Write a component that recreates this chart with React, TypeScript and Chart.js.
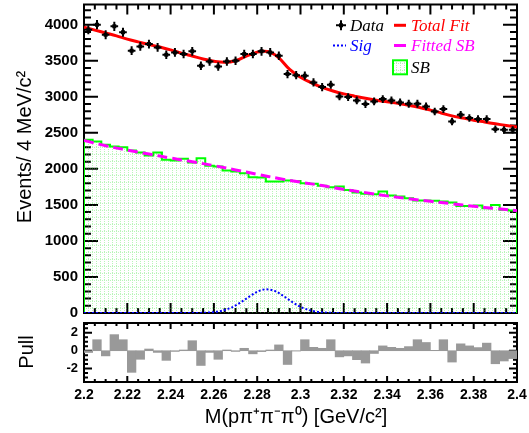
import React, { useEffect, useRef } from 'react';
import { Chart, registerables } from 'chart.js';

Chart.register(...registerables);

// ---------- data ----------
const BIN_LO = 2.2;
const BIN_HI = 2.4;
const BIN_W = 0.004;

const dataCounts = [
  3930, 4000, 3861, 3977, 3894, 3639, 3699, 3731, 3685, 3583,
  3615, 3593, 3630, 3431, 3490, 3421, 3490, 3500, 3593, 3593,
  3630, 3615, 3569, 3315, 3299, 3292, 3199, 3134, 3167, 3005,
  2995, 2949, 2898, 2935, 2968, 2949, 2921, 2903, 2903, 2866,
  2796, 2829, 2657, 2750, 2704, 2690, 2690, 2551, 2542, 2542,
];

const sbCounts = [
  2403, 2380, 2333, 2310, 2301, 2255, 2227, 2185, 2227, 2125,
  2116, 2139, 2088, 2148, 2042, 2032, 1977, 1963, 1940, 1884,
  1880, 1824, 1824, 1838, 1830, 1801, 1792, 1764, 1745, 1755,
  1708, 1671, 1653, 1648, 1685, 1630, 1616, 1593, 1560, 1560,
  1556, 1546, 1532, 1486, 1486, 1491, 1454, 1500, 1431, 1421,
];

const pullValues = [
  -0.2, 1.23, -0.58, 1.8, 1.23, -2.42, -0.96, 0.19, -0.19, -1.08,
  -0.08, 0.08, 1.12, -1.65, -0.19, -0.96, 0.08, -0.08, 0.27, -0.35,
  -0.1, 0.08, 0.65, -1.54, -0.04, 1.23, 0.38, 0.27, 1.23, -0.69,
  -0.58, -1.0, -1.38, -0.31, 0.54, 0.38, 0.27, 0.46, 1.23, 0.92,
  0.04, 1.23, -1.27, 0.77, 0.54, 0.35, 0.85, -1.46, -1.15, -0.88,
];

const fitX = [
  2.2, 2.205, 2.21, 2.215, 2.22, 2.225, 2.23, 2.235, 2.24, 2.245,
  2.25, 2.255, 2.26, 2.265, 2.27, 2.275, 2.28, 2.283, 2.286, 2.29,
  2.295, 2.3, 2.305, 2.31, 2.315, 2.32, 2.325, 2.33, 2.335, 2.34,
  2.345, 2.35, 2.355, 2.36, 2.365, 2.37, 2.375, 2.38, 2.385, 2.39,
  2.395, 2.4,
];
const fitY = [
  3965, 3925, 3885, 3845, 3800, 3762, 3725, 3690, 3650, 3605,
  3565, 3525, 3492, 3478, 3500, 3565, 3620, 3632, 3618, 3540,
  3380, 3270, 3195, 3130, 3080, 3040, 3008, 2978, 2952, 2930,
  2908, 2882, 2852, 2815, 2775, 2735, 2705, 2675, 2650, 2625,
  2602, 2580,
];

const sigX = [
  2.2, 2.24, 2.252, 2.256, 2.26, 2.264, 2.268, 2.272, 2.276, 2.28,
  2.284, 2.288, 2.292, 2.296, 2.3, 2.304, 2.308, 2.312, 2.316, 2.33, 2.4,
];
const sigY = [
  0, 0, 1, 4, 12, 33, 74, 140, 220, 295,
  329, 307, 239, 156, 86, 40, 15, 5, 1, 0, 0,
];

const sbFitX = [
  2.2, 2.21, 2.22, 2.23, 2.24, 2.25, 2.26, 2.27, 2.28, 2.29,
  2.3, 2.31, 2.32, 2.33, 2.34, 2.35, 2.36, 2.37, 2.38, 2.39, 2.4,
];
const sbFitY = [
  2395, 2320, 2260, 2205, 2150, 2098, 2045, 1985, 1925, 1866,
  1815, 1768, 1715, 1670, 1625, 1585, 1550, 1515, 1480, 1450, 1420,
];

const xTickValues = [2.2, 2.22, 2.24, 2.26, 2.28, 2.3, 2.32, 2.34, 2.36, 2.38, 2.4];
const xTickLabels = ['2.2', '2.22', '2.24', '2.26', '2.28', '2.3', '2.32', '2.34', '2.36', '2.38', '2.4'];
const yTickValues = [0, 500, 1000, 1500, 2000, 2500, 3000, 3500, 4000];
const yTickLabels = ['0', '500', '1000', '1500', '2000', '2500', '3000', '3500', '4000'];
const pullTickValues = [-2, 0, 2];
const pullTickLabels = ['-2', '0', '2'];

const xMajorStep = 0.02;
const xMinorStep = 0.005;
const yMajorStep = 500;
const yMinorStep = 100;
const pullMajorStep = 2;
const pullMinorStep = 0.5;
const Y_MAX = 4280;
const PULL_MIN = -3.5;
const PULL_MAX = 3.1;

const legendEntries = [
  { label: 'Data', color: '#000000', kind: 'cross', col: 0, row: 0 },
  { label: 'Total Fit', color: '#ff0000', kind: 'line', col: 1, row: 0 },
  { label: 'Sig', color: '#0000ff', kind: 'dots', col: 0, row: 1 },
  { label: 'Fitted SB', color: '#ff00ff', kind: 'line', col: 1, row: 1 },
  { label: 'SB', color: '#000000', kind: 'box', col: 1, row: 2 },
];

// ---------- helpers ----------
const SANS = '"Liberation Sans", Arial, Helvetica, sans-serif';
const SERIF = '"Liberation Serif", "Times New Roman", serif';

function range(min: number, max: number, step: number): number[] {
  const out: number[] = [];
  const n = Math.round((max - min) / step);
  for (let i = 0; i <= n; i++) out.push(+(min + i * step).toFixed(6));
  return out;
}
function minorOnly(min: number, max: number, step: number, major: number): number[] {
  return range(min, max, step).filter((v) => {
    const r = v / major;
    return Math.abs(r - Math.round(r)) > 1e-6;
  });
}
function labelFor(values: number[], labels: string[]) {
  return (v: any) => {
    const i = values.findIndex((t) => Math.abs(t - Number(v)) < 1e-9);
    return i >= 0 ? labels[i] : '';
  };
}
function fixWidth(w: number) {
  return (s: any) => {
    s.width = w;
    s.paddingTop = 0;
    s.paddingBottom = 0;
  };
}
function fixHeight(h: number) {
  return (s: any) => {
    s.height = h;
    s.paddingLeft = 0;
    s.paddingRight = 0;
  };
}

type TickSpec = { major: number[]; minor: number[]; majorLen: number; minorLen: number };

function framePlugin(id: string, xt: TickSpec, yt: TickSpec) {
  return {
    id,
    beforeDatasetsDraw(chart: any) {
      const { ctx, chartArea: a, scales } = chart;
      const xs = scales.x;
      const ys = scales.y;
      ctx.save();
      ctx.strokeStyle = '#000';
      ctx.lineWidth = 2;
      ctx.beginPath();
      const drawX = (vals: number[], len: number) => {
        vals.forEach((v) => {
          const px = xs.getPixelForValue(v);
          ctx.moveTo(px, a.bottom);
          ctx.lineTo(px, a.bottom - len);
          ctx.moveTo(px, a.top);
          ctx.lineTo(px, a.top + len);
        });
      };
      const drawY = (vals: number[], len: number) => {
        vals.forEach((v) => {
          const py = ys.getPixelForValue(v);
          ctx.moveTo(a.left, py);
          ctx.lineTo(a.left + len, py);
          ctx.moveTo(a.right, py);
          ctx.lineTo(a.right - len, py);
        });
      };
      drawX(xt.major, xt.majorLen);
      drawX(xt.minor, xt.minorLen);
      drawY(yt.major, yt.majorLen);
      drawY(yt.minor, yt.minorLen);
      ctx.stroke();
      ctx.strokeRect(a.left, a.top, a.right - a.left, a.bottom - a.top);
      ctx.restore();
    },
  };
}

function makePattern(): CanvasPattern | string {
  const c = document.createElement('canvas');
  c.width = 4;
  c.height = 7;
  const g = c.getContext('2d');
  if (!g) return 'rgba(0,255,0,0.1)';
  g.fillStyle = 'rgba(70, 230, 70, 0.38)';
  for (let y = 0; y < 7; y += 2) g.fillRect(0, y, 1, 1);
  g.fillRect(2, 0, 1, 1);
  return g.createPattern(c, 'repeat') || 'rgba(0,255,0,0.1)';
}

export default function App() {
  const mainRef = useRef<HTMLCanvasElement>(null);
  const pullRef = useRef<HTMLCanvasElement>(null);

  useEffect(() => {
    document.body.style.margin = '0';
    if (!mainRef.current || !pullRef.current) return;
    const pattern = makePattern();

    const binCenters = dataCounts.map((_, i) => +(BIN_LO + BIN_W * (i + 0.5)).toFixed(4));
    const binEdges = sbCounts.map((_, i) => +(BIN_LO + BIN_W * i).toFixed(4));
    const sbPoints = [
      { x: BIN_LO, y: 0 },
      ...sbCounts.map((v, i) => ({ x: binEdges[i], y: v })),
      { x: BIN_HI, y: sbCounts[sbCounts.length - 1] },
      { x: BIN_HI, y: 0 },
    ];

    const errorBars = {
      id: 'errorBars',
      afterDatasetsDraw(chart: any) {
        const { ctx, scales } = chart;
        const xs = scales.x;
        const ys = scales.y;
        ctx.save();
        ctx.strokeStyle = '#000';
        ctx.lineWidth = 2;
        ctx.beginPath();
        dataCounts.forEach((n, i) => {
          const cx = binCenters[i];
          const e = Math.sqrt(n);
          const px = xs.getPixelForValue(cx);
          const py = ys.getPixelForValue(n);
          ctx.moveTo(xs.getPixelForValue(cx - BIN_W / 2) + 0.5, py);
          ctx.lineTo(xs.getPixelForValue(cx + BIN_W / 2) - 0.5, py);
          ctx.moveTo(px, ys.getPixelForValue(n - e));
          ctx.lineTo(px, ys.getPixelForValue(n + e));
        });
        ctx.stroke();
        ctx.restore();
      },
    };

    const colX = [341, 400];
    const rowY = [25.3, 45.5, 67.3];
    const legend = {
      id: 'rootLegend',
      afterDraw(chart: any) {
        const ctx = chart.ctx;
        ctx.save();
        ctx.font = `italic 17px ${SERIF}`;
        ctx.textAlign = 'left';
        ctx.textBaseline = 'alphabetic';
        legendEntries.forEach((en) => {
          const cx = colX[en.col];
          const cy = rowY[en.row];
          ctx.strokeStyle = en.color;
          ctx.fillStyle = en.color;
          if (en.kind === 'cross') {
            ctx.lineWidth = 2;
            ctx.beginPath();
            ctx.moveTo(cx - 5, cy);
            ctx.lineTo(cx + 5, cy);
            ctx.moveTo(cx, cy - 5);
            ctx.lineTo(cx, cy + 5);
            ctx.stroke();
            ctx.fillRect(cx - 2, cy - 2, 4, 4);
          } else if (en.kind === 'dots') {
            ctx.lineWidth = 2;
            ctx.setLineDash([2, 2]);
            ctx.beginPath();
            ctx.moveTo(cx - 8, cy);
            ctx.lineTo(cx + 5, cy);
            ctx.stroke();
            ctx.setLineDash([]);
          } else if (en.kind === 'line') {
            ctx.lineWidth = 3;
            ctx.beginPath();
            ctx.moveTo(cx - 6, cy);
            ctx.lineTo(cx + 6, cy);
            ctx.stroke();
          } else if (en.kind === 'box') {
            ctx.fillStyle = pattern as any;
            ctx.fillRect(cx - 7, cy - 7, 14, 14);
            ctx.strokeStyle = '#00ff00';
            ctx.lineWidth = 2;
            ctx.strokeRect(cx - 7, cy - 7, 14, 14);
          }
          ctx.fillStyle = en.color;
          const tx = en.col === 0 ? cx + 9 : cx + 11;
          ctx.fillText(en.label, tx, cy + 5.7);
        });
        ctx.restore();
      },
    };

    const mainTitle = {
      id: 'mainTitle',
      afterDraw(chart: any) {
        const ctx = chart.ctx;
        ctx.save();
        ctx.fillStyle = '#000';
        ctx.font = `20px ${SANS}`;
        ctx.textAlign = 'center';
        ctx.textBaseline = 'middle';
        ctx.translate(25, 147);
        ctx.rotate(-Math.PI / 2);
        ctx.fillText('Events/ 4 MeV/c²', 0, 0);
        ctx.restore();
      },
    };

    const mainFrame = framePlugin(
      'mainFrame',
      {
        major: range(BIN_LO, BIN_HI, xMajorStep),
        minor: minorOnly(BIN_LO, BIN_HI, xMinorStep, xMajorStep),
        majorLen: 10,
        minorLen: 5,
      },
      {
        major: yTickValues,
        minor: minorOnly(0, 4200, yMinorStep, yMajorStep),
        majorLen: 14,
        minorLen: 7,
      }
    );

    const main = new Chart(mainRef.current, {
      type: 'line',
      data: {
        datasets: [
          {
            type: 'scatter',
            label: 'Data',
            data: dataCounts.map((v, i) => ({ x: binCenters[i], y: v })),
            pointStyle: 'rect',
            pointRadius: 2.8,
            backgroundColor: '#000',
            borderColor: '#000',
            borderWidth: 0,
            order: 0,
          } as any,
          {
            type: 'line',
            label: 'Total Fit',
            data: fitX.map((x, i) => ({ x, y: fitY[i] })),
            borderColor: '#ff0000',
            borderWidth: 3,
            pointRadius: 0,
            tension: 0.4,
            fill: false,
            order: 1,
          },
          {
            type: 'line',
            label: 'Sig',
            data: sigX.map((x, i) => ({ x, y: sigY[i] })),
            borderColor: '#0000ff',
            borderWidth: 2,
            borderDash: [2, 2],
            pointRadius: 0,
            tension: 0.4,
            cubicInterpolationMode: 'monotone',
            fill: false,
            order: 2,
          },
          {
            type: 'line',
            label: 'Fitted SB',
            data: sbFitX.map((x, i) => ({ x, y: sbFitY[i] })),
            borderColor: '#ff00ff',
            borderWidth: 3,
            borderDash: [10, 5],
            pointRadius: 0,
            tension: 0.4,
            fill: false,
            order: 3,
          },
          {
            type: 'line',
            label: 'SB',
            data: sbPoints,
            borderColor: '#00ff00',
            borderWidth: 2,
            stepped: 'before',
            pointRadius: 0,
            fill: 'origin',
            backgroundColor: pattern as any,
            order: 4,
          },
        ],
      },
      options: {
        responsive: false,
        animation: false,
        events: [],
        layout: { padding: { left: 0, right: 12, top: 4.5, bottom: 17 } },
        plugins: { legend: { display: false }, tooltip: { enabled: false } },
        scales: {
          x: { type: 'linear', min: BIN_LO, max: BIN_HI, display: false },
          y: {
            type: 'linear',
            min: 0,
            max: Y_MAX,
            afterBuildTicks: (s: any) => {
              s.ticks = yTickValues.map((value) => ({ value }));
            },
            afterFit: fixWidth(84),
            grid: { display: false, drawTicks: false },
            border: { display: false },
            ticks: {
              padding: 6,
              color: '#000',
              autoSkip: false,
              font: { family: SANS, size: 15, weight: 'bold' },
              callback: labelFor(yTickValues, yTickLabels),
            },
          },
        },
      } as any,
      plugins: [mainFrame, errorBars, legend, mainTitle] as any,
    });

    const pullFrame = framePlugin(
      'pullFrame',
      {
        major: xTickValues,
        minor: minorOnly(BIN_LO, BIN_HI, xMinorStep, xMajorStep),
        majorLen: 6,
        minorLen: 3,
      },
      {
        major: pullTickValues,
        minor: minorOnly(-3.5, 3.0, pullMinorStep, pullMajorStep),
        majorLen: 8,
        minorLen: 4,
      }
    );

    const pullTitles = {
      id: 'pullTitles',
      afterDraw(chart: any) {
        const ctx = chart.ctx;
        ctx.save();
        ctx.fillStyle = '#000';
        ctx.font = `20px ${SANS}`;
        ctx.textAlign = 'center';
        ctx.textBaseline = 'middle';
        ctx.fillText('M(pπ⁺π⁻π⁰) [GeV/c²]', 296, 101);
        ctx.translate(27, 36);
        ctx.rotate(-Math.PI / 2);
        ctx.fillText('Pull', 0, 0);
        ctx.restore();
      },
    };

    const pull = new Chart(pullRef.current, {
      type: 'bar',
      data: {
        datasets: [
          {
            label: 'Pull',
            data: pullValues.map((v, i) => ({ x: binCenters[i], y: v })),
            backgroundColor: '#999999',
            borderWidth: 0,
            barPercentage: 1,
            categoryPercentage: 1,
          } as any,
        ],
      },
      options: {
        responsive: false,
        animation: false,
        events: [],
        layout: { padding: { left: 0, right: 12, top: 7, bottom: 0 } },
        plugins: { legend: { display: false }, tooltip: { enabled: false } },
        scales: {
          x: {
            type: 'linear',
            min: BIN_LO,
            max: BIN_HI,
            offset: false,
            afterBuildTicks: (s: any) => {
              s.ticks = xTickValues.map((value) => ({ value }));
            },
            afterFit: fixHeight(51),
            grid: { display: false, drawTicks: false, offset: false },
            border: { display: false },
            ticks: {
              autoSkip: false,
              maxRotation: 0,
              padding: 5,
              color: '#000',
              font: { family: SANS, size: 14, weight: 'bold' },
              callback: labelFor(xTickValues, xTickLabels),
            },
          },
          y: {
            type: 'linear',
            min: PULL_MIN,
            max: PULL_MAX,
            afterBuildTicks: (s: any) => {
              s.ticks = pullTickValues.map((value) => ({ value }));
            },
            afterFit: fixWidth(84),
            grid: { display: false, drawTicks: false },
            border: { display: false },
            ticks: {
              padding: 6,
              color: '#000',
              autoSkip: false,
              font: { family: SANS, size: 13, weight: 'bold' },
              callback: labelFor(pullTickValues, pullTickLabels),
            },
          },
        },
      } as any,
      plugins: [pullFrame, pullTitles] as any,
    });

    return () => {
      main.destroy();
      pull.destroy();
    };
  }, []);

  return (
    <div style={{ position: 'absolute', left: 0, top: 0, width: 529, height: 433, background: '#ffffff' }}>
      <canvas
        ref={mainRef}
        width={529}
        height={330}
        style={{ position: 'absolute', left: 0, top: 0, width: 529, height: 330 }}
      />
      <canvas
        ref={pullRef}
        width={529}
        height={117}
        style={{ position: 'absolute', left: 0, top: 316, width: 529, height: 117 }}
      />
    </div>
  );
}
